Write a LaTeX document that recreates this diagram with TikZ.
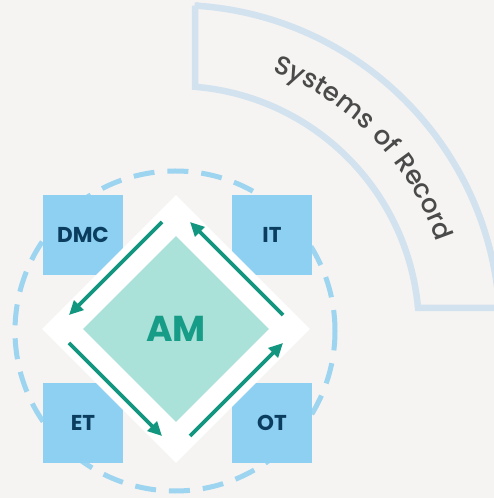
\documentclass[tikz,border=0pt]{standalone}
\usepackage{fontspec}
\setmainfont{Poppins}
\newfontfamily\arcfont{Poppins}[UprightFont=* Medium, LetterSpace=5]
\usetikzlibrary{arrows.meta,decorations.text,calc,shapes.geometric}
\definecolor{bg}{HTML}{F5F4F2}
\definecolor{boxblue}{HTML}{8DD0F2}
\definecolor{ringblue}{HTML}{9DD4F0}
\definecolor{navy}{HTML}{0B3D5F}
\definecolor{mint}{HTML}{AAE2D9}
\definecolor{flowteal}{HTML}{12967F}
\definecolor{amteal}{HTML}{179C87}
\definecolor{bandline}{HTML}{D3E2EF}
\definecolor{sortext}{HTML}{4A4A4A}
\begin{document}
\begin{tikzpicture}[x=1pt,y=1pt,
  sysbox/.style={fill=boxblue, minimum size=80pt, inner sep=0pt,
    font=\bfseries\fontsize{21.5}{21.5}\selectfont, text=navy},
  flow/.style={draw=flowteal, line width=3.6pt,
    -{Triangle[length=14pt,width=13pt]}}]
\useasboundingbox (0,0) rectangle (494,498);
\fill[bg] (0,0) rectangle (494,498);

% curved band for the systems of record
\coordinate (ac) at (175,168);
\begin{scope}
  \clip (0,0) rectangle (494,498);
  \draw[bandline, line width=6.5pt, line join=miter]
    (195,492.4) -- (195,411.2)
    arc[start angle=85.3, end angle=5.17, radius=244]
    -- (499.25,190)
    arc[start angle=3.88, end angle=86.5, radius=325] -- cycle;
\end{scope}
\path[decorate, decoration={text along path, text align=center,
    text={|\arcfont\fontsize{26}{26}\selectfont\color{sortext}|Systems of Record}}]
  ($(ac)+(80:276)$) arc[start angle=80, end angle=8, radius=276];

% dashed ring
\draw[ringblue, line width=5pt, dash pattern=on 21pt off 13pt]
  (175,167) circle[radius=160];

% the four systems
\node[sysbox] (dmc) at (83,263) {DMC};
\node[sysbox] (it)  at (272,263) {IT};
\node[sysbox] (et)  at (83,75) {ET};
\node[sysbox] (ot)  at (272,75) {OT};

% central asset management hub
\coordinate (M) at (176,169);
\node[diamond, fill=white, minimum size=268pt, inner sep=0pt] (hub) at (M) {};
\node[diamond, fill=mint, minimum size=186pt, inner sep=0pt,
  font=\bfseries\fontsize{36}{36}\selectfont, text=amteal] (am) at (M) {AM};

% flow around the hub
\coordinate (a1) at ($(M)+(-14,107)$);
\coordinate (a2) at ($(M)+(-107,14)$);
\coordinate (b1) at ($(M)+(-107,-14)$);
\coordinate (b2) at ($(M)+(-14,-107)$);
\coordinate (c1) at ($(M)+(14,-107)$);
\coordinate (c2) at ($(M)+(107,-14)$);
\coordinate (d1) at ($(M)+(107,14)$);
\coordinate (d2) at ($(M)+(14,107)$);
\draw[flow] (a1) -- (a2);
\draw[flow] (b1) -- (b2);
\draw[flow] (c1) -- (c2);
\draw[flow] (d1) -- (d2);
\end{tikzpicture}
\end{document}
